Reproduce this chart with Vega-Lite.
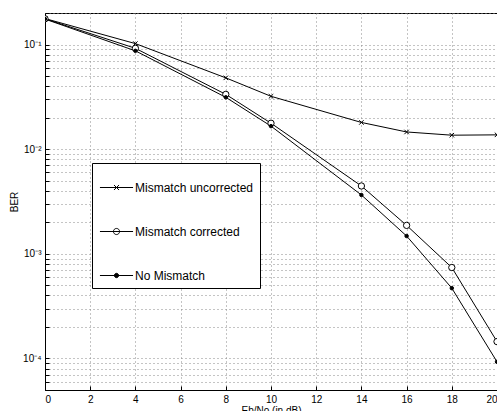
{
  "$schema": "https://vega.github.io/schema/vega-lite/v6.json",
  "width": 452,
  "height": 377,
  "autosize": "none",
  "padding": {"left": 45, "top": 13, "right": 0, "bottom": 21},
  "background": "white",
  "data": {
    "values": [
      {"series": "Mismatch uncorrected", "x": 0, "ber": 0.177},
      {"series": "Mismatch uncorrected", "x": 4, "ber": 0.102},
      {"series": "Mismatch uncorrected", "x": 8, "ber": 0.048},
      {"series": "Mismatch uncorrected", "x": 10, "ber": 0.032},
      {"series": "Mismatch uncorrected", "x": 14, "ber": 0.018},
      {"series": "Mismatch uncorrected", "x": 16, "ber": 0.0146},
      {"series": "Mismatch uncorrected", "x": 18, "ber": 0.0136},
      {"series": "Mismatch uncorrected", "x": 20, "ber": 0.0137},
      {"series": "Mismatch corrected", "x": 0, "ber": 0.176},
      {"series": "Mismatch corrected", "x": 4, "ber": 0.092},
      {"series": "Mismatch corrected", "x": 8, "ber": 0.0334},
      {"series": "Mismatch corrected", "x": 10, "ber": 0.0177},
      {"series": "Mismatch corrected", "x": 14, "ber": 0.00445},
      {"series": "Mismatch corrected", "x": 16, "ber": 0.00187},
      {"series": "Mismatch corrected", "x": 18, "ber": 0.00074},
      {"series": "Mismatch corrected", "x": 20, "ber": 0.000145},
      {"series": "No Mismatch", "x": 0, "ber": 0.175},
      {"series": "No Mismatch", "x": 4, "ber": 0.087},
      {"series": "No Mismatch", "x": 8, "ber": 0.0313},
      {"series": "No Mismatch", "x": 10, "ber": 0.0166},
      {"series": "No Mismatch", "x": 14, "ber": 0.00365},
      {"series": "No Mismatch", "x": 16, "ber": 0.00148},
      {"series": "No Mismatch", "x": 18, "ber": 0.00047},
      {"series": "No Mismatch", "x": 20, "ber": 0.000093}
    ]
  },
  "encoding": {
    "x": {
      "field": "x", "type": "quantitative",
      "scale": {"domain": [0, 20], "nice": false, "zero": false},
      "axis": {
        "title": "Eb/No (in dB)",
        "values": [0, 2, 4, 6, 8, 10, 12, 14, 16, 18, 20],
        "labelPadding": 8,
        "titlePadding": 1
      }
    },
    "y": {
      "field": "ber", "type": "quantitative",
      "scale": {"type": "log", "domain": [0.00005, 0.2], "nice": false},
      "axis": {
        "title": "BER",
        "values": [0.00005, 0.00006, 0.00007, 0.00008, 0.00009, 0.0001, 0.0002, 0.0003, 0.0004, 0.0005, 0.0006, 0.0007, 0.0008, 0.0009, 0.001, 0.002, 0.003, 0.004, 0.005, 0.006, 0.007, 0.008, 0.009, 0.01, 0.02, 0.03, 0.04, 0.05, 0.06, 0.07, 0.08, 0.09, 0.1, 0.2],
        "labelExpr": "datum.value == 0.1 ? '10⁻¹' : datum.value == 0.01 ? '10⁻²' : datum.value == 0.001 ? '10⁻³' : datum.value == 0.0001 ? '10⁻⁴' : ''",
        "labelPadding": 8,
        "titlePadding": 3,
        "labelOverlap": false,
        "labelBound": false,
        "labelFlush": false
      }
    }
  },
  "layer": [
    {
      "mark": {"type": "line", "stroke": "black", "strokeWidth": 1, "clip": true},
      "encoding": {"detail": {"field": "series"}, "order": {"field": "x"}}
    },
    {
      "mark": {"type": "point", "stroke": "black", "strokeWidth": 1, "opacity": 1, "clip": true},
      "encoding": {
        "shape": {
          "condition": {"test": "datum.series === 'Mismatch uncorrected'", "value": "M-1,-1L1,1M-1,1L1,-1"},
          "value": "circle"
        },
        "fill": {
          "condition": {"test": "datum.series === 'No Mismatch'", "value": "black"},
          "value": "white"
        },
        "size": {
          "condition": [
            {"test": "datum.series === 'Mismatch uncorrected'", "value": 20},
            {"test": "datum.series === 'Mismatch corrected'", "value": 40}
          ],
          "value": 12
        }
      }
    },
    {
      "mark": {"type": "point", "filled": false, "strokeWidth": 1, "opacity": 0, "size": 1296, "clip": true},
      "encoding": {
        "shape": {
          "field": "series", "type": "nominal",
          "scale": {
            "domain": ["Mismatch uncorrected", "Mismatch corrected", "No Mismatch"],
            "range": [
              "M-0.92,0H0.92M-0.14,-0.14L0.14,0.14M-0.14,0.14L0.14,-0.14",
              "M-0.92,0H0.92M0.17,0A0.17,0.17,0,1,1,-0.17,0A0.17,0.17,0,1,1,0.17,0",
              "M-0.92,0H0.92M0.12,0A0.12,0.12,0,1,1,-0.12,0A0.12,0.12,0,1,1,0.12,0"
            ]
          },
          "legend": {
            "title": null,
            "orient": "none",
            "legendX": 47,
            "legendY": 150,
            "padding": 6,
            "rowPadding": 19,
            "strokeColor": "black",
            "fillColor": "white",
            "cornerRadius": 0,
            "labelFont": "Liberation Sans",
            "labelFontSize": 12,
            "labelColor": "black",
            "labelOffset": 0,
            "labelLimit": 300,
            "symbolSize": 1296,
            "symbolStrokeWidth": 1,
            "symbolOpacity": 1,
            "labelExpr": "datum.label + '          '",
            "encode": {
              "legend": {"update": {"strokeWidth": {"value": 1.5}}},
              "symbols": {
                "update": {
                  "strokeWidth": {"value": 1},
                  "size": {"value": 1296},
                  "opacity": {"value": 1}
                }
              }
            }
          }
        },
        "stroke": {
          "field": "series", "type": "nominal",
          "scale": {
            "domain": ["Mismatch uncorrected", "Mismatch corrected", "No Mismatch"],
            "range": ["black", "black", "black"]
          }
        },
        "fill": {
          "field": "series", "type": "nominal",
          "scale": {
            "domain": ["Mismatch uncorrected", "Mismatch corrected", "No Mismatch"],
            "range": ["white", "white", "black"]
          }
        }
      }
    }
  ],
  "config": {
    "view": {"stroke": "black", "strokeWidth": 1},
    "axis": {
      "domainColor": "black",
      "tickColor": "black",
      "tickSize": -4,
      "labelColor": "black",
      "titleColor": "black",
      "labelFont": "Liberation Sans",
      "titleFont": "Liberation Sans",
      "labelFontSize": 10,
      "titleFontSize": 10,
      "titleFontWeight": "normal",
      "grid": true,
      "gridColor": "#888",
      "gridDash": [1, 3],
      "gridWidth": 1
    }
  }
}
